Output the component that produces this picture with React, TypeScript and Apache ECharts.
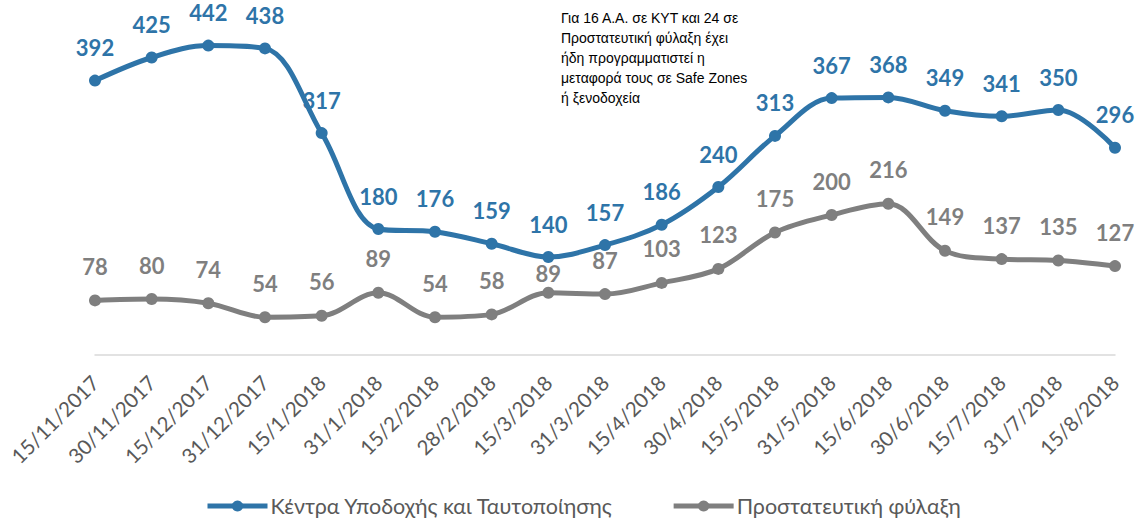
import React, { useEffect, useRef } from "react";
import * as echarts from "echarts";

const categories = [
  "15/11/2017", "30/11/2017", "15/12/2017", "31/12/2017", "15/1/2018", "31/1/2018",
  "15/2/2018", "28/2/2018", "15/3/2018", "31/3/2018", "15/4/2018", "30/4/2018",
  "15/5/2018", "31/5/2018", "15/6/2018", "30/6/2018", "15/7/2018", "31/7/2018", "15/8/2018",
];
const kytValues = [392, 425, 442, 438, 317, 180, 176, 159, 140, 157, 186, 240, 313, 367, 368, 349, 341, 350, 296];
const protValues = [78, 80, 74, 54, 56, 89, 54, 58, 89, 87, 103, 123, 175, 200, 216, 149, 137, 135, 127];

const seriesNames = ["Κέντρα Υποδοχής και Ταυτοποίησης", "Προστατευτική φύλαξη"];
const noteLines = [
  "Για 16 Α.Α. σε ΚΥΤ και 24 σε",
  "Προστατευτική φύλαξη έχει",
  "ήδη προγραμματιστεί η",
  "μεταφορά τους σε Safe Zones",
  "ή ξενοδοχεία",
];

const BLUE = "#2E74A8";
const GREY = "#7F7F7F";
const FONT = "Lato, 'Open Sans', sans-serif";

export default function App() {
  const ref = useRef<HTMLDivElement>(null);
  useEffect(() => {
    if (!ref.current) return;
    const chart = echarts.init(ref.current, undefined, { renderer: "svg" });
    const labelFont = { fontFamily: FONT, fontWeight: "bold" as const, fontSize: 22 };
    const protData = protValues.map((v, i) =>
      i === 8 ? { value: v, label: { distance: 2 } } : v
    );
    chart.setOption({
      animation: false,
      grid: { left: 95, right: 22, top: 5, bottom: 163, containLabel: false },
      xAxis: {
        type: "category",
        data: categories,
        boundaryGap: false,
        axisLine: { lineStyle: { color: "#D9D9D9", width: 1.5 } },
        axisTick: { show: false },
        axisLabel: {
          rotate: 45,
          color: "#595959",
          fontSize: 20.5,
          fontFamily: FONT,
          interval: 0,
          margin: 24,
        },
      },
      yAxis: { type: "value", min: 0, max: 500, show: false, splitLine: { show: false } },
      legend: {
        top: 490,
        left: 200,
        itemWidth: 60,
        itemHeight: 14,
        itemGap: 58,
        lineStyle: { width: 5 },
        textStyle: { color: "#595959", fontSize: 21.5, fontFamily: FONT, padding: [0, 0, 0, -2] },
        data: seriesNames,
      },
      series: [
        {
          name: seriesNames[0],
          type: "line",
          data: kytValues,
          smooth: 0.35,
          symbol: "circle",
          symbolSize: 12,
          lineStyle: { color: BLUE, width: 5 },
          itemStyle: { color: BLUE },
          label: { show: true, position: "top", distance: 16, color: BLUE, ...labelFont },
        },
        {
          name: seriesNames[1],
          type: "line",
          data: protData,
          smooth: 0.35,
          symbol: "circle",
          symbolSize: 12,
          lineStyle: { color: GREY, width: 5 },
          itemStyle: { color: GREY },
          label: { show: true, position: "top", distance: 17, color: GREY, ...labelFont },
        },
      ],
      graphic: [
        {
          type: "text",
          left: 561,
          top: 8,
          style: {
            text: noteLines.join("\n"),
            fill: "#000",
            font: "14px 'Liberation Sans', Arial, sans-serif",
            lineHeight: 20,
          },
        },
      ],
    });
    return () => chart.dispose();
  }, []);
  return (
    <div
      ref={ref}
      style={{ position: "absolute", left: 0, top: 0, width: 1137, height: 518 }}
    />
  );
}
